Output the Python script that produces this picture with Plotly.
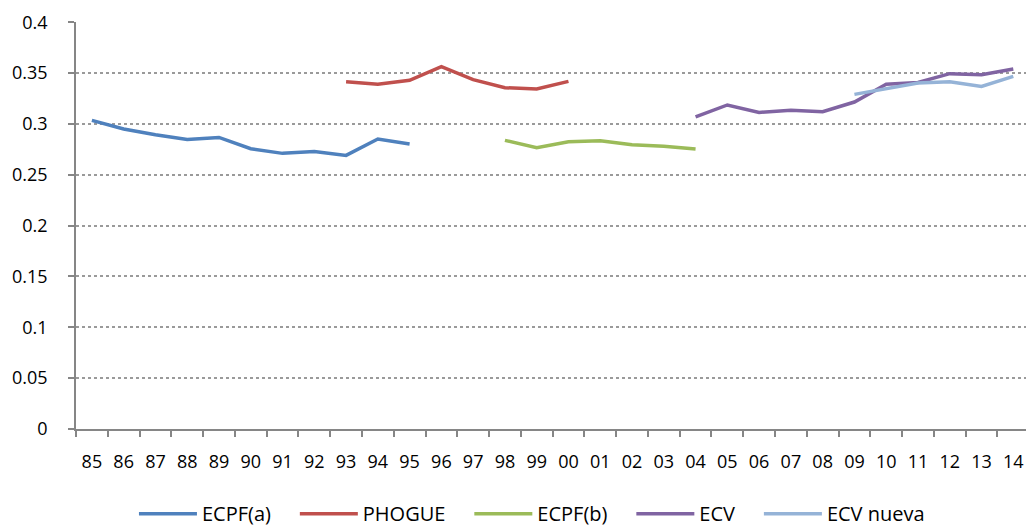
import plotly.graph_objects as go

years = ["85", "86", "87", "88", "89", "90", "91", "92", "93", "94", "95", "96", "97", "98", "99",
         "00", "01", "02", "03", "04", "05", "06", "07", "08", "09", "10", "11", "12", "13", "14"]

ecpf_a_years = ["85", "86", "87", "88", "89", "90", "91", "92", "93", "94", "95"]
ecpf_a = [0.3035, 0.2951, 0.2895, 0.2848, 0.2868, 0.2757, 0.2711, 0.2730, 0.2691, 0.2852, 0.2803]

phogue_years = ["93", "94", "95", "96", "97", "98", "99", "00"]
phogue = [0.3416, 0.3390, 0.3429, 0.3564, 0.3436, 0.3357, 0.3344, 0.3419]

ecpf_b_years = ["98", "99", "00", "01", "02", "03", "04"]
ecpf_b = [0.2839, 0.2767, 0.2826, 0.2836, 0.2796, 0.2780, 0.2754]

ecv_years = ["04", "05", "06", "07", "08", "09", "10", "11", "12", "13", "14"]
ecv = [0.3069, 0.3187, 0.3114, 0.3134, 0.3121, 0.3216, 0.3390, 0.3409, 0.3495, 0.3485, 0.3541]

ecv_nueva_years = ["09", "10", "11", "12", "13", "14"]
ecv_nueva = [0.3291, 0.3344, 0.3403, 0.3416, 0.3370, 0.3468]

y_ticks = [0, 0.05, 0.1, 0.15, 0.2, 0.25, 0.3, 0.35, 0.4]
y_tick_text = ["0", "0.05", "0.1", "0.15", "0.2", "0.25", "0.3", "0.35", "0.4"]

PAD = "\u00a0\u00a0\u00a0\u2009"
series = [
    ("ECPF(a)", ecpf_a_years, ecpf_a, "#4F81BD"),
    ("PHOGUE", phogue_years, phogue, "#C0504D"),
    ("ECPF(b)", ecpf_b_years, ecpf_b, "#9BBB59"),
    ("ECV", ecv_years, ecv, "#8064A2"),
    ("ECV nueva", ecv_nueva_years, ecv_nueva, "#95B3D7"),
]

fig = go.Figure()
for name, xs, ys, color in series:
    fig.add_trace(go.Scatter(x=xs, y=ys, name=name + PAD, mode="lines",
                             line=dict(color=color, width=3.5)))

font_family = "Open Sans, Liberation Sans, sans-serif"
fig.update_layout(
    width=1026, height=529,
    margin=dict(l=76, r=0, t=22, b=100, autoexpand=False),
    paper_bgcolor="white", plot_bgcolor="white",
    font=dict(family=font_family, size=18, color="#000000"),
    showlegend=True,
    legend=dict(orientation="h", x=0.061, xanchor="left", y=-0.208, yanchor="middle",
                font=dict(size=20), traceorder="normal", itemwidth=58),
)
fig.update_xaxes(
    type="category", categoryorder="array", categoryarray=years,
    range=[-0.5, 29.4],
    showline=True, linecolor="#868686", linewidth=1.5,
    ticks="outside", ticklen=6, tickcolor="#868686", tickwidth=1.5,
    tickson="boundaries", showgrid=False, zeroline=False,
    ticklabelstandoff=16, automargin=False,
)
fig.update_yaxes(
    range=[0, 0.4003],
    tickvals=y_ticks, ticktext=y_tick_text,
    showline=True, linecolor="#868686", linewidth=1.5,
    ticks="outside", ticklen=6, tickcolor="#868686", tickwidth=1.5,
    showgrid=True, gridcolor="#9A9A9A", gridwidth=1.5, griddash="dot",
    zeroline=False, ticklabelstandoff=17, automargin=False,
)

fig.write_html("out.html", config={"displayModeBar": False},
               post_script="document.body.style.margin='0';document.body.style.overflow='hidden';")
